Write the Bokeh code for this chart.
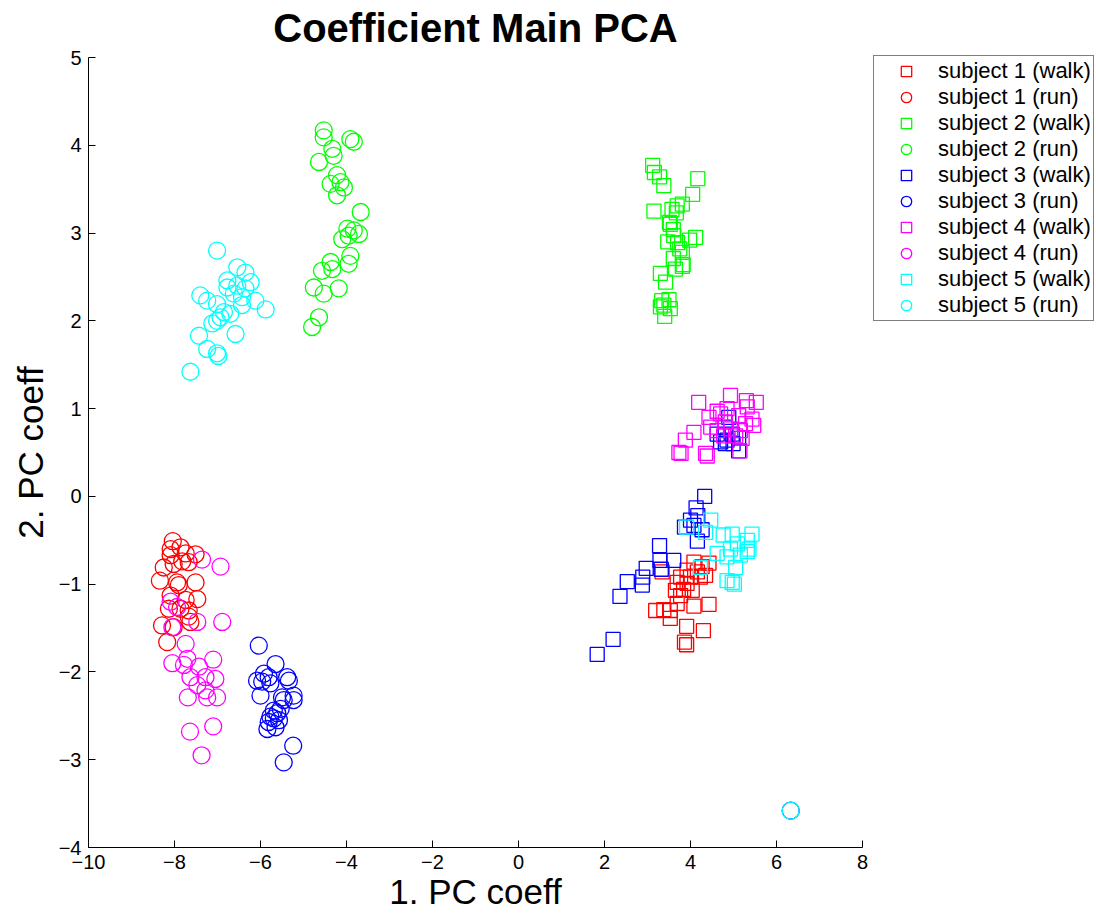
from bokeh.plotting import figure
from bokeh.models import Legend, LegendItem, FixedTicker
from bokeh.embed import file_html
from bokeh.resources import INLINE

# ---- data ----
s1_walk_x = [4.08, 4.43, 4.27, 3.92, 4.16, 3.34, 3.77, 4.00, 4.23, 3.69, 3.92, 3.65, 4.04, 3.84, 3.77, 3.69, 3.19, 3.38, 3.53, 4.08, 4.43, 3.53, 3.91, 4.30, 3.86, 3.91, 4.35]
s1_walk_y = [-0.75, -0.76, -0.80, -0.84, -0.86, -0.86, -0.92, -0.92, -0.92, -0.98, -0.99, -1.07, -1.07, -1.06, -1.13, -1.22, -1.30, -1.29, -1.30, -1.25, -1.23, -1.39, -1.48, -1.53, -1.66, -1.69, -0.90]

s1_run_x = [-8.04, -8.09, -7.86, -7.74, -7.51, -8.09, -7.82, -8.25, -8.02, -7.67, -8.34, -7.94, -7.90, -7.51, -8.09, -7.47, -7.74, -8.13, -7.86, -7.67, -8.29, -8.02, -7.63, -8.17, -7.67]
s1_run_y = [-0.51, -0.60, -0.58, -0.65, -0.66, -0.67, -0.74, -0.81, -0.77, -0.75, -0.96, -0.98, -1.01, -0.98, -1.13, -1.17, -1.18, -1.28, -1.28, -1.30, -1.47, -1.49, -1.43, -1.66, -1.37]

s2_walk_x = [3.12, 3.16, 3.28, 3.38, 4.17, 4.05, 3.81, 3.69, 3.15, 3.57, 3.67, 3.51, 3.53, 3.60, 3.61, 4.12, 3.98, 3.47, 3.70, 3.75, 3.81, 3.60, 3.83, 3.65, 3.81, 3.30, 3.42, 3.33, 3.50, 3.38, 3.53, 3.40, 3.30]
s2_walk_y = [3.77, 3.69, 3.64, 3.54, 3.62, 3.44, 3.33, 3.31, 3.25, 3.27, 3.23, 3.12, 3.10, 3.04, 2.97, 2.95, 2.92, 2.90, 2.89, 2.82, 2.78, 2.71, 2.64, 2.59, 2.62, 2.54, 2.44, 2.23, 2.24, 2.18, 2.14, 2.05, 2.16]

s2_run_x = [-4.53, -4.53, -3.91, -3.83, -4.33, -4.30, -4.64, -4.22, -4.37, -4.14, -4.06, -4.22, -3.67, -3.98, -3.83, -3.71, -4.10, -3.95, -3.91, -4.37, -4.33, -3.95, -4.57, -4.76, -4.53, -4.18, -4.64, -4.80]
s2_run_y = [4.17, 4.09, 4.07, 4.04, 3.96, 3.88, 3.81, 3.66, 3.56, 3.58, 3.52, 3.43, 3.24, 3.05, 3.03, 2.99, 2.93, 2.97, 2.74, 2.67, 2.59, 2.65, 2.57, 2.38, 2.31, 2.37, 2.04, 1.93]

s3_walk_x = [4.33, 4.13, 4.17, 3.86, 4.08, 4.27, 4.16, 3.28, 3.29, 3.61, 3.32, 2.97, 2.89, 2.53, 2.88, 2.36, 2.20, 1.83, 4.00,
             4.89, 4.81, 4.97, 4.62, 4.85, 5.12, 4.81, 5.12, 4.99, 4.70]
s3_walk_y = [0.00, -0.13, -0.22, -0.35, -0.33, -0.38, -0.51, -0.56, -0.73, -0.73, -0.83, -0.82, -0.92, -0.97, -1.01, -1.14, -1.63, -1.80, -0.27,
             0.90, 0.79, 0.71, 0.71, 0.64, 0.66, 0.60, 0.52, 0.60, 0.62]

s3_run_x = [-6.04, -5.65, -5.92, -6.08, -5.81, -5.38, -5.34, -5.96, -5.77, -6.00, -5.50, -5.23, -5.23, -5.46, -5.69, -5.53, -5.61, -5.77, -5.69, -5.81, -5.57, -5.84, -5.65, -5.24, -5.46, 6.33]
s3_run_y = [-1.70, -1.91, -2.02, -2.10, -2.06, -2.06, -2.10, -2.11, -2.13, -2.27, -2.29, -2.27, -2.32, -2.32, -2.44, -2.42, -2.47, -2.51, -2.53, -2.57, -2.55, -2.65, -2.63, -2.84, -3.03, -3.58]

s4_walk_x = [4.19, 4.93, 5.30, 5.53, 4.62, 4.85, 5.32, 4.43, 5.12, 5.43, 4.81, 5.28, 5.47, 4.47, 4.62, 4.93, 5.16, 4.08, 4.77, 5.05, 3.88, 5.20, 3.73, 3.78, 4.35, 4.39, 5.15, 4.70]
s4_walk_y = [1.07, 1.15, 1.09, 1.07, 0.97, 1.00, 1.02, 0.90, 0.92, 0.88, 0.85, 0.83, 0.81, 0.79, 0.75, 0.77, 0.75, 0.73, 0.69, 0.69, 0.64, 0.66, 0.50, 0.49, 0.49, 0.46, 0.52, 0.94]

s4_run_x = [-7.36, -6.93, -8.09, -7.94, -7.47, -6.89, -8.05, -7.74, -8.05, -7.70, -7.78, -7.10, -7.43, -7.63, -7.28, -7.05, -7.47, -7.28, -7.69, -7.24, -7.01, -7.64, -7.10, -7.37]
s4_run_y = [-0.72, -0.80, -1.20, -1.26, -1.43, -1.43, -1.49, -1.68, -1.90, -1.85, -1.92, -1.86, -1.94, -2.06, -2.06, -2.08, -2.15, -2.21, -2.29, -2.29, -2.29, -2.68, -2.62, -2.95]

s5_walk_x = [4.47, 3.91, 4.35, 4.76, 4.97, 5.43, 5.32, 5.09, 4.93, 5.36, 4.62, 4.85, 5.16, 5.32, 4.23, 5.05, 4.85, 4.97, 5.02]
s5_walk_y = [-0.27, -0.35, -0.41, -0.44, -0.43, -0.43, -0.50, -0.54, -0.60, -0.60, -0.65, -0.69, -0.67, -0.63, -0.81, -0.81, -0.96, -0.98, -1.00]

s5_run_x = [-7.01, -6.54, -6.35, -6.77, -6.23, -6.77, -6.54, -6.35, -6.62, -6.43, -7.40, -7.24, -6.12, -7.01, -6.43, -5.88, -6.85, -6.70, -6.93, -7.01, -7.12, -6.58, -7.43, -7.24, -7.01, -6.98, -7.63, 6.33]
s5_run_y = [2.80, 2.61, 2.55, 2.46, 2.44, 2.38, 2.40, 2.37, 2.31, 2.27, 2.29, 2.23, 2.23, 2.19, 2.18, 2.13, 2.10, 2.08, 2.04, 2.00, 1.97, 1.85, 1.83, 1.68, 1.63, 1.60, 1.42, -3.58]

x_ticks = [-10, -8, -6, -4, -2, 0, 2, 4, 6, 8]
x_tick_labels = ["\u221210", "\u22128", "\u22126", "\u22124", "\u22122", "0", "2", "4", "6", "8"]
y_ticks = [-4, -3, -2, -1, 0, 1, 2, 3, 4, 5]
y_tick_labels = ["\u22124", "\u22123", "\u22122", "\u22121", "0", "1", "2", "3", "4", "5"]

series = [
    ("subject 1 (walk)", s1_walk_x, s1_walk_y, "#FF0000", "square"),
    ("subject 1 (run)", s1_run_x, s1_run_y, "#FF0000", "circle"),
    ("subject 2 (walk)", s2_walk_x, s2_walk_y, "#00FF00", "square"),
    ("subject 2 (run)", s2_run_x, s2_run_y, "#00FF00", "circle"),
    ("subject 3 (walk)", s3_walk_x, s3_walk_y, "#0000FF", "square"),
    ("subject 3 (run)", s3_run_x, s3_run_y, "#0000FF", "circle"),
    ("subject 4 (walk)", s4_walk_x, s4_walk_y, "#FF00FF", "square"),
    ("subject 4 (run)", s4_run_x, s4_run_y, "#FF00FF", "circle"),
    ("subject 5 (walk)", s5_walk_x, s5_walk_y, "#00FFFF", "square"),
    ("subject 5 (run)", s5_run_x, s5_run_y, "#00FFFF", "circle"),
]

FONT = "Liberation Sans"

p = figure(frame_width=774, frame_height=790, x_range=(-10, 8), y_range=(-4, 5),
           output_backend="svg", toolbar_location=None,
           min_border_left=88, min_border_top=57, min_border_bottom=60, min_border_right=234,
           title="Coefficient Main PCA")
p.outline_line_color = None
p.grid.visible = False
p.background_fill_color = "white"
p.border_fill_color = "white"

p.title.align = "center"
p.title.vertical_align = "top"
p.title.text_font = FONT
p.title.text_font_size = "40px"
p.title.text_font_style = "bold"
p.title.text_color = "black"
p.title.standoff = 11

items = []
for label, xs, ys, color, marker in series:
    size = 17 if marker == "circle" else 14
    r = p.scatter(xs, ys, marker=marker, size=size, fill_color=None,
                  line_color=color, line_width=1.3)
    items.append(LegendItem(label=label, renderers=[r]))

for ax, ticks, labels in ((p.xaxis[0], x_ticks, x_tick_labels), (p.yaxis[0], y_ticks, y_tick_labels)):
    ax.ticker = FixedTicker(ticks=ticks)
    ax.major_label_overrides = {t: l for t, l in zip(ticks, labels)}
    ax.minor_tick_line_color = None
    ax.major_tick_in = 7
    ax.major_tick_out = 0
    ax.axis_line_color = "black"
    ax.major_tick_line_color = "black"
    ax.major_label_text_font = FONT
    ax.major_label_text_font_size = "20px"
    ax.major_label_text_color = "black"
    ax.axis_label_text_font = FONT
    ax.axis_label_text_font_size = "35px"
    ax.axis_label_text_font_style = "normal"
    ax.axis_label_text_color = "black"
    ax.major_label_standoff = 7

p.xaxis.axis_label = "1. PC coeff"
p.yaxis.axis_label = "2. PC coeff"
p.xaxis.axis_label_standoff = 0
p.yaxis.axis_label_standoff = 6

legend = Legend(items=items, location=(11, 526), margin=0, padding=2,
                spacing=0, glyph_height=26, glyph_width=60, label_height=26,
                label_standoff=2, label_text_font=FONT, label_text_font_size="22px",
                label_text_color="black", border_line_color="black", border_line_width=1,
                background_fill_color="white", background_fill_alpha=1.0)
p.add_layout(legend, "right")

open("out.html", "w").write(file_html(p, INLINE))
